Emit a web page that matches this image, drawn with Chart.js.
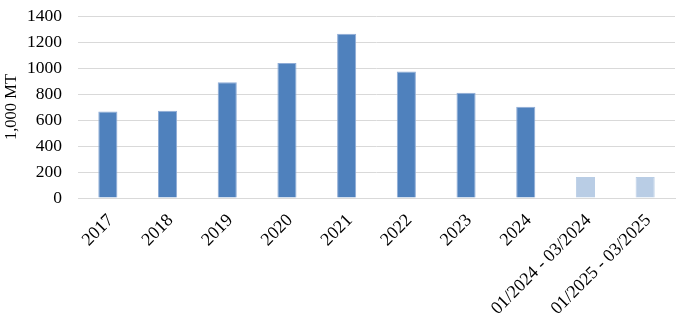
<!DOCTYPE html>
<html>
<head>
<meta charset="utf-8">
<script src="https://cdn.jsdelivr.net/npm/chart.js@4"></script>
<style>
  html, body { margin: 0; padding: 0; background: #fff; }
  #wrap { width: 698px; height: 322px; }
</style>
</head>
<body>
<div id="wrap"><canvas id="volume-chart"></canvas></div>
<script>
const categories = ['2017', '2018', '2019', '2020', '2021', '2022', '2023', '2024', '01/2024 - 03/2024', '01/2025 - 03/2025'];
const volumes = [665, 672, 890, 1038, 1264, 974, 810, 702, 161, 161];
const yTicks = [0, 200, 400, 600, 800, 1000, 1200, 1400];

const fullYear = '#4F81BD';
const partYear = '#B9CDE5';
const barColors = categories.map(c => c.includes('/') ? partYear : fullYear);
const edgeColors = categories.map(c => c.includes('/') ? partYear : '#8FACD6');

const serif = "'Liberation Serif', 'Times New Roman', serif";

const ctx = document.getElementById('volume-chart');

new Chart(ctx, {
  type: 'bar',
  data: {
    labels: categories,
    datasets: [{
      label: '1,000 MT',
      data: volumes,
      backgroundColor: barColors,
      borderColor: edgeColors,
      borderWidth: 1,
      barPercentage: 0.32,
      categoryPercentage: 1
    }]
  },
  options: {
    responsive: true,
    maintainAspectRatio: false,
    animation: false,
    layout: {
      padding: { top: 16, right: 23, left: 0, bottom: 0 }
    },
    plugins: {
      legend: { display: false },
      tooltip: { enabled: false }
    },
    scales: {
      x: {
        grid: { display: false, drawTicks: false },
        border: { display: true, color: '#D9D9D9', width: 1 },
        ticks: {
          color: '#000',
          font: { family: serif, size: 18 },
          minRotation: 45,
          maxRotation: 45,
          labelOffset: 3,
          padding: 12,
          autoSkip: false
        },
        afterFit: (scale) => {
          scale.height = 124;
          scale.paddingTop = 0;
          scale.paddingBottom = 0;
          scale.paddingLeft = 0;
          scale.paddingRight = 0;
        }
      },
      y: {
        min: 0,
        max: 1400,
        afterBuildTicks: (scale) => { scale.ticks = yTicks.map(v => ({ value: v })); },
        grid: { color: '#D9D9D9', lineWidth: 1, drawTicks: false },
        border: { display: false },
        ticks: {
          color: '#000',
          font: { family: serif, size: 17.5 },
          padding: 16,
          callback: (v) => String(v)
        },
        title: {
          display: true,
          text: '1,000 MT',
          color: '#000',
          font: { family: serif, size: 16.5 },
          padding: { top: 2, bottom: 0 }
        },
        afterFit: (scale) => {
          scale.width = 78;
          scale.paddingTop = 0;
          scale.paddingBottom = 0;
        }
      }
    }
  }
});
</script>
</body>
</html>
